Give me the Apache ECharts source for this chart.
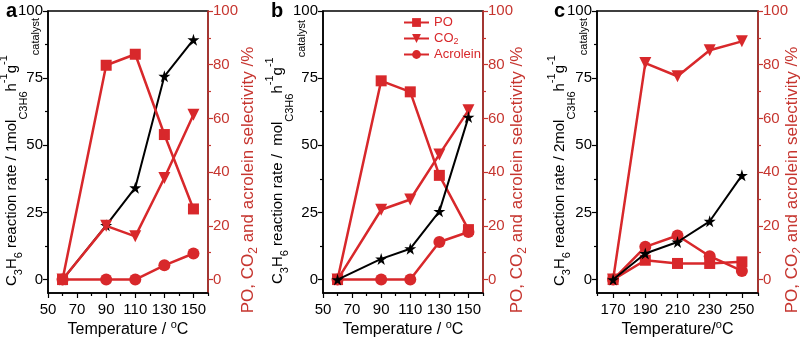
<!DOCTYPE html>
<html><head><meta charset="utf-8">
<script src="https://cdn.jsdelivr.net/npm/echarts@6/dist/echarts.min.js"></script>
<style>html,body{margin:0;padding:0;background:#fff}#c{width:800px;height:339px}</style>
</head><body><div id="c"></div>
<script>
// ---- data ----
const tempsAB = [60, 90, 110, 130, 150];
const tempsC = [170, 190, 210, 230, 250];
const rateA = [0, 20.2, 34.2, 75.7, 89.3];
const poA = [0, 79.8, 83.9, 54, 26.3];
const co2A = [0, 20, 16.1, 37.8, 61.4];
const acrA = [0, 0, 0, 5.3, 9.7];
const rateB = [0, 7.7, 11.5, 25.4, 60.5];
const poB = [0, 74, 69.9, 38.8, 18.6];
const co2B = [0, 26, 29.8, 46.6, 63];
const acrB = [0, 0, 0, 14, 17.7];
const rateC = [0, 9.7, 14, 21.7, 38.8];
const poC = [0, 7.2, 6, 6, 6.6];
const co2C = [0, 80.6, 75.7, 85.4, 88.7];
const acrC = [0, 12.2, 16.4, 8.7, 3.2];
const xTicksAB = [50, 70, 90, 110, 130, 150];
const xMinorAB = [60, 80, 100, 120, 140, 160];
const xTicksC = [170, 190, 210, 230, 250];
const xMinorC = [160, 180, 200, 220, 240, 260];
const leftTicks = [0, 25, 50, 75, 100];
const leftMinor = [12.5, 37.5, 62.5, 87.5];
const rightTicks = [0, 20, 40, 60, 80, 100];
const rightMinor = [10, 30, 50, 70, 90];
const panelLetters = ['a', 'b', 'c'];
const leftPrefix = ['1mol', ' mol', '2mol'];
const xNames = ['Temperature / {p|o}C', 'Temperature / {p|o}C', 'Temperature/{p|o}C'];

// ---- style ----
const FONT = "'Liberation Sans',Arial,sans-serif";
const RED = '#d8282b';
const AXRED = '#c6352f';
const STAR = 'path://M50,0 L61,35 L98,35 L68,57 L79,92 L50,71 L21,92 L32,57 L2,35 L39,35 Z';

const grids = [
  {left: 48, right: 592, top: 11, bottom: 46},
  {left: 323, right: 317, top: 11, bottom: 46},
  {left: 597, right: 42, top: 11, bottom: 46}
];
const letterLeft = [6, 271, 554];
const leftNameGap = [28, 37, 29];
const rightNameGap = [31, 25, 25];
const xRanges = [[50, 160], [50, 160], [160, 260]];
const xLabels = [xTicksAB, xTicksAB, xTicksC];
const xMinors = [xMinorAB, xMinorAB, xMinorC];

function leftRich() {
  const c = '#000';
  return {
    m: {fontSize: 15, lineHeight: 16, fontFamily: FONT, color: c},
    s: {fontSize: 11, lineHeight: 12, fontFamily: FONT, color: c, padding: [14, 0, 0, 0]},
    t: {fontSize: 11, lineHeight: 12, fontFamily: FONT, color: c, padding: [24, 0, 0, 0]},
    p: {fontSize: 11, lineHeight: 12, fontFamily: FONT, color: c, padding: [0, 0, 16, 0]},
    c: {fontSize: 11, lineHeight: 12, fontFamily: FONT, color: c, padding: [48, 0, 0, 0]}
  };
}
function rightRich() {
  return {
    m: {fontSize: 17, lineHeight: 18, fontFamily: FONT, color: AXRED},
    s: {fontSize: 12, lineHeight: 13, fontFamily: FONT, color: AXRED, padding: [12, 0, 0, 0]}
  };
}

const xAxis = [], yAxis = [], series = [], title = [];
for (let p = 0; p < 3; p++) {
  title.push({text: panelLetters[p], left: letterLeft[p], top: 1, padding: 0,
    textStyle: {fontSize: 20, fontWeight: 'bold', fontFamily: FONT, color: '#000'}});
  xAxis.push({
    gridIndex: p, type: 'value', min: xRanges[p][0], max: xRanges[p][1], position: 'bottom',
    name: xNames[p], nameLocation: 'middle', nameGap: 29, nameMoveOverlap: false,
    nameTextStyle: {fontSize: 16, fontFamily: FONT, color: '#000', rich: {
      p: {fontSize: 11, lineHeight: 12, fontFamily: FONT, color: '#000', padding: [0, 0, 10, 0]}}},
    axisLine: {show: true, onZero: false, lineStyle: {color: '#000', width: 1.5}},
    axisTick: {show: true, inside: false, length: 5, lineStyle: {color: '#000', width: 1.2}, customValues: xLabels[p]},
    axisLabel: {show: true, margin: 9, fontSize: 15, fontFamily: FONT, color: '#000', customValues: xLabels[p],
      showMinLabel: true, showMaxLabel: true, hideOverlap: false},
    splitLine: {show: false}
  });
  xAxis.push({
    gridIndex: p, type: 'value', min: xRanges[p][0], max: xRanges[p][1], position: 'bottom',
    axisLine: {show: false, onZero: false},
    axisTick: {show: true, inside: false, length: 3, lineStyle: {color: '#000', width: 1.2}, customValues: xMinors[p]},
    axisLabel: {show: false}, splitLine: {show: false}
  });
  const leftName = '{m|C}{s|3}{m|H}{s|6}{m| reaction rate / ' + leftPrefix[p] + '}{t|C3H6}{m|h}{p|-1}{m|g}{p|-1}{c|catalyst}';
  yAxis.push({
    gridIndex: p, type: 'value', min: -5, max: 100, position: 'left',
    name: leftName, nameLocation: 'middle', nameRotate: 90, nameGap: leftNameGap[p], nameMoveOverlap: false,
    nameTextStyle: {rich: leftRich()},
    axisLine: {show: true, onZero: false, lineStyle: {color: '#000', width: 1.5}},
    axisTick: {show: true, length: 5, lineStyle: {color: '#000', width: 1.2}, customValues: leftTicks},
    axisLabel: {show: true, margin: 5, fontSize: 15, fontFamily: FONT, color: '#000', customValues: leftTicks,
      showMinLabel: true, showMaxLabel: true},
    splitLine: {show: false}
  });
  yAxis.push({
    gridIndex: p, type: 'value', min: -5, max: 100, position: 'left',
    axisLine: {show: false, onZero: false},
    axisTick: {show: true, length: 3, lineStyle: {color: '#000', width: 1.2}, customValues: leftMinor},
    axisLabel: {show: false}, splitLine: {show: false}
  });
  yAxis.push({
    gridIndex: p, type: 'value', min: -5, max: 100, position: 'right',
    name: '{m|PO, CO}{s|2}{m| and acrolein selectivity /%}', nameLocation: 'middle', nameRotate: 90,
    nameGap: rightNameGap[p], nameMoveOverlap: false,
    nameTextStyle: {rich: rightRich(), padding: [0, 56, 0, 0]},
    axisLine: {show: true, onZero: false, lineStyle: {color: AXRED, width: 1.5}},
    axisTick: {show: true, length: 5, lineStyle: {color: AXRED, width: 1.2}, customValues: rightTicks},
    axisLabel: {show: true, margin: 5, fontSize: 15, fontFamily: FONT, color: AXRED, customValues: rightTicks,
      showMinLabel: true, showMaxLabel: true},
    splitLine: {show: false}
  });
  yAxis.push({
    gridIndex: p, type: 'value', min: -5, max: 100, position: 'right',
    axisLine: {show: false, onZero: false},
    axisTick: {show: true, length: 3, lineStyle: {color: AXRED, width: 1.2}, customValues: rightMinor},
    axisLabel: {show: false}, splitLine: {show: false}
  });
}

const temps = [tempsAB, tempsAB, tempsC];
const rates = [rateA, rateB, rateC];
const pos = [poA, poB, poC];
const co2s = [co2A, co2B, co2C];
const acrs = [acrA, acrB, acrC];
const pair = (xs, ys) => xs.map((x, i) => [x, ys[i]]);

for (let p = 0; p < 3; p++) {
  const rateSeries = {
    name: 'rate', type: 'line', xAxisIndex: 2 * p, yAxisIndex: 4 * p,
    data: pair(temps[p], rates[p]), symbol: STAR, symbolSize: 12, z: p === 0 ? 1 : 3,
    lineStyle: {color: '#000', width: 2}, itemStyle: {color: '#000'}, animation: false
  };
  const common = {type: 'line', xAxisIndex: 2 * p, yAxisIndex: 4 * p + 2, z: 2, animation: false,
    lineStyle: {color: RED, width: 2.5}, itemStyle: {color: RED}};
  series.push(rateSeries);
  series.push(Object.assign({}, common, {name: 'PO', data: pair(temps[p], pos[p]), symbol: 'rect', symbolSize: 11}));
  series.push(Object.assign({}, common, {name: 'CO2', data: pair(temps[p], co2s[p]), symbol: 'triangle', symbolRotate: 180, symbolSize: 12}));
  series.push(Object.assign({}, common, {name: 'Acrolein', data: pair(temps[p], acrs[p]), symbol: 'circle', symbolSize: 12}));
}

const chart = echarts.init(document.getElementById('c'), null, {renderer: 'canvas'});
chart.setOption({
  animation: false,
  backgroundColor: '#fff',
  title: title,
  grid: grids.map(g => Object.assign({show: true, borderColor: '#000', borderWidth: 1.5, backgroundColor: 'transparent',
    containLabel: false, outerBoundsMode: 'none'}, g)),
  legend: {
    data: ['PO', 'CO2', 'Acrolein'], orient: 'vertical', left: 398, top: 11, itemGap: 2, padding: 5,
    itemWidth: 25, itemHeight: 11,
    formatter: n => n === 'CO2' ? '{m|CO}{s|2}' : '{m|' + n + '}',
    textStyle: {color: RED, rich: {
      m: {fontSize: 13, lineHeight: 14, fontFamily: FONT, color: RED},
      s: {fontSize: 9, lineHeight: 10, fontFamily: FONT, color: RED, padding: [6, 0, 0, 0]}
    }}
  },
  xAxis: xAxis, yAxis: yAxis, series: series
});
</script></body></html>
